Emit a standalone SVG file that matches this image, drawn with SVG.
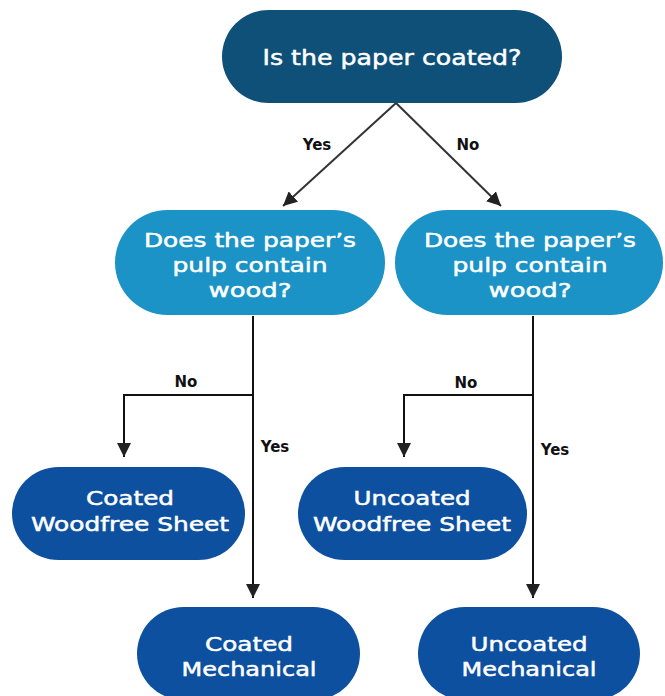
<svg xmlns="http://www.w3.org/2000/svg" width="665" height="696" viewBox="0 0 665 696">
<style>
  .t { font-family: "DejaVu Sans", "Open Sans", sans-serif; fill: #ffffff; stroke: #ffffff; stroke-width: 0.5; text-anchor: middle; font-size: 20px; }
  .big { font-size: 22px; }
  .q1 { fill: #0e5078; }
  .q2 { fill: #1b93c6; }
  .leaf { fill: #0e50a0; }
  .lbl { font-family: "DejaVu Sans", "Open Sans", sans-serif; font-weight: 700; font-size: 15px; fill: #111; text-anchor: middle; }
  .c1 { stroke: #333; stroke-width: 2; fill: none; }
  .c2 { stroke: #111; stroke-width: 2; fill: none; }
</style>
<defs>
  <marker id="ah" markerUnits="userSpaceOnUse" markerWidth="16" markerHeight="14" refX="14" refY="7" orient="auto">
    <path d="M0,0 L14,7 L0,14 Z" fill="#222"/>
  </marker>
</defs>
<g id="connectors">
  <line class="c1" x1="396" y1="103" x2="283" y2="206" marker-end="url(#ah)"/>
  <line class="c1" x1="396" y1="103" x2="501" y2="206" marker-end="url(#ah)"/>
  <line class="c2" x1="253" y1="316" x2="253" y2="598" marker-end="url(#ah)"/>
  <polyline class="c2" points="253,395 124,395 124,457" marker-end="url(#ah)"/>
  <line class="c2" x1="533" y1="316" x2="533" y2="598" marker-end="url(#ah)"/>
  <polyline class="c2" points="533,395 404,395 404,457" marker-end="url(#ah)"/>
  <text class="lbl" x="317" y="150">Yes</text>
  <text class="lbl" x="468" y="150">No</text>
  <text class="lbl" x="186" y="387">No</text>
  <text class="lbl" x="466" y="388">No</text>
  <text class="lbl" x="275" y="452">Yes</text>
  <text class="lbl" x="555" y="455">Yes</text>
</g>
<g id="n-coated">
  <rect class="q1" x="222" y="10" width="340" height="93" rx="46.5"/>
  <text class="t big" x="392" y="65" textLength="259" lengthAdjust="spacingAndGlyphs">Is the paper coated?</text>
</g>
<g id="n-pulp-left">
  <rect class="q2" x="115" y="210" width="270" height="105" rx="52.5"/>
  <text class="t" x="250" y="247" textLength="212" lengthAdjust="spacingAndGlyphs">Does the paper’s</text>
  <text class="t" x="250" y="272" textLength="155" lengthAdjust="spacingAndGlyphs">pulp contain</text>
  <text class="t" x="250" y="297" textLength="83" lengthAdjust="spacingAndGlyphs">wood?</text>
</g>
<g id="n-pulp-right">
  <rect class="q2" x="395" y="210" width="268" height="105" rx="52.5"/>
  <text class="t" x="530" y="247" textLength="212" lengthAdjust="spacingAndGlyphs">Does the paper’s</text>
  <text class="t" x="530" y="272" textLength="155" lengthAdjust="spacingAndGlyphs">pulp contain</text>
  <text class="t" x="530" y="297" textLength="83" lengthAdjust="spacingAndGlyphs">wood?</text>
</g>
<g id="n-coated-woodfree">
  <rect class="leaf" x="12" y="467" width="233" height="93" rx="46.5"/>
  <text class="t" x="130" y="505" textLength="88" lengthAdjust="spacingAndGlyphs">Coated</text>
  <text class="t" x="130" y="531" textLength="198" lengthAdjust="spacingAndGlyphs">Woodfree Sheet</text>
</g>
<g id="n-uncoated-woodfree">
  <rect class="leaf" x="298" y="467" width="229" height="93" rx="46.5"/>
  <text class="t" x="412" y="505" textLength="117" lengthAdjust="spacingAndGlyphs">Uncoated</text>
  <text class="t" x="412" y="531" textLength="198" lengthAdjust="spacingAndGlyphs">Woodfree Sheet</text>
</g>
<g id="n-coated-mech">
  <rect class="leaf" x="137" y="607" width="223" height="93" rx="46.5"/>
  <text class="t" x="249" y="651" textLength="88" lengthAdjust="spacingAndGlyphs">Coated</text>
  <text class="t" x="249" y="676" textLength="135" lengthAdjust="spacingAndGlyphs">Mechanical</text>
</g>
<g id="n-uncoated-mech">
  <rect class="leaf" x="418" y="607" width="222" height="93" rx="46.5"/>
  <text class="t" x="529" y="651" textLength="117" lengthAdjust="spacingAndGlyphs">Uncoated</text>
  <text class="t" x="529" y="676" textLength="135" lengthAdjust="spacingAndGlyphs">Mechanical</text>
</g>
</svg>
